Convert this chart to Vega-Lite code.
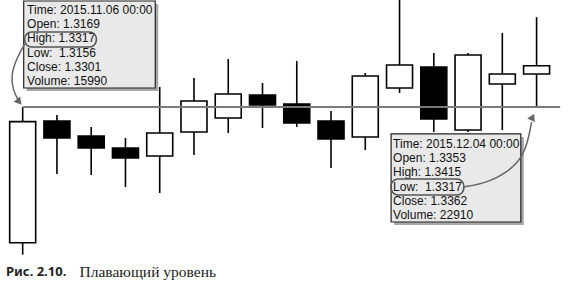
{
  "$schema": "https://vega.github.io/schema/vega-lite/v6.json",
  "width": 572,
  "height": 287,
  "autosize": {"type": "none"},
  "padding": 0,
  "background": "white",
  "config": {"view": {"stroke": null}},
  "datasets": {
    "candles": [
      {"i": 1, "open": 1.3169, "high": 1.3317, "low": 1.3156, "close": 1.3301},
      {"i": 2, "open": 1.33017, "high": 1.33083, "low": 1.32439, "close": 1.32832},
      {"i": 3, "open": 1.32854, "high": 1.32952, "low": 1.32428, "close": 1.32723},
      {"i": 4, "open": 1.32723, "high": 1.32832, "low": 1.32298, "close": 1.32614},
      {"i": 5, "open": 1.32636, "high": 1.33388, "low": 1.32232, "close": 1.32886},
      {"i": 6, "open": 1.32897, "high": 1.33486, "low": 1.32647, "close": 1.33235},
      {"i": 7, "open": 1.3305, "high": 1.33693, "low": 1.32886, "close": 1.33312},
      {"i": 8, "open": 1.33301, "high": 1.33432, "low": 1.32941, "close": 1.33192},
      {"i": 9, "open": 1.33203, "high": 1.33672, "low": 1.32952, "close": 1.32996},
      {"i": 10, "open": 1.33017, "high": 1.33126, "low": 1.32505, "close": 1.32821},
      {"i": 11, "open": 1.32843, "high": 1.33541, "low": 1.32701, "close": 1.33508},
      {"i": 12, "open": 1.33377, "high": 1.3445, "low": 1.33323, "close": 1.33628},
      {"i": 13, "open": 1.33606, "high": 1.33759, "low": 1.32897, "close": 1.33039},
      {"i": 14, "open": 1.32919, "high": 1.33759, "low": 1.32897, "close": 1.33737},
      {"i": 15, "open": 1.33421, "high": 1.33977, "low": 1.32919, "close": 1.3353},
      {"i": 16, "open": 1.3353, "high": 1.3415, "low": 1.3317, "close": 1.3362}
    ],
    "level": [{"i": 1, "i2": 16.69, "p": 1.3317}],
    "boxes": [
      {"i": 1.03, "i2": 4.87, "p": 1.34326, "p2": 1.33377},
      {"i": 11.754, "i2": 15.54, "p": 1.32876, "p2": 1.31916}
    ],
    "tips": [
      {"i": 1.129, "p": 1.34228, "t": "Time: 2015.11.06 00:00\nOpen: 1.3169\nHigh: 1.3317\nLow:\u00a0 1.3156\nClose: 1.3301\nVolume: 15990"},
      {"i": 11.812, "p": 1.32767, "t": "Time: 2015.12.04 00:00\nOpen: 1.3353\nHigh: 1.3415\nLow:\u00a0 1.3317\nClose: 1.3362\nVolume: 22910"}
    ],
    "rings": [
      {"i": 1.057, "i2": 3.151, "p": 1.33988, "p2": 1.33824},
      {"i": 11.754, "i2": 13.876, "p": 1.32385, "p2": 1.3221}
    ],
    "arrows": [
      {"a": 1, "k": 1, "i": 1.0574, "p": 1.33857},
      {"a": 1, "k": 2, "i": 0.8279, "p": 1.33704},
      {"a": 1, "k": 3, "i": 0.6559, "p": 1.33518},
      {"a": 1, "k": 4, "i": 0.7132, "p": 1.33355},
      {"a": 1, "k": 5, "i": 0.8853, "p": 1.33235},
      {"a": 2, "k": 1, "i": 13.876, "p": 1.32298},
      {"a": 2, "k": 2, "i": 14.536, "p": 1.32341},
      {"a": 2, "k": 3, "i": 15.167, "p": 1.32461},
      {"a": 2, "k": 4, "i": 15.597, "p": 1.32625},
      {"a": 2, "k": 5, "i": 15.769, "p": 1.32832},
      {"a": 2, "k": 6, "i": 15.855, "p": 1.33006}
    ],
    "heads": [
      {"i": 0.9, "p": 1.33225, "ang": 140},
      {"i": 15.884, "p": 1.33061, "ang": 25}
    ]
  },
  "layer": [
    {
      "data": {"name": "candles"},
      "mark": {"type": "rule", "color": "black", "strokeWidth": 1.6},
      "encoding": {
        "x": {"field": "i", "type": "quantitative", "scale": {"domain": [0.484, 16.888], "nice": false, "zero": false}, "axis": null},
        "y": {"field": "low", "type": "quantitative", "scale": {"domain": [1.312071, 1.343368], "nice": false, "zero": false}, "axis": null},
        "y2": {"field": "high"}
      }
    },
    {
      "data": {"name": "candles"},
      "mark": {"type": "bar", "size": 26, "stroke": "black", "strokeWidth": 1.6},
      "encoding": {
        "x": {"field": "i", "type": "quantitative", "scale": {"domain": [0.484, 16.888], "nice": false, "zero": false}, "axis": null},
        "y": {"field": "open", "type": "quantitative", "scale": {"domain": [1.312071, 1.343368], "nice": false, "zero": false}, "axis": null},
        "y2": {"field": "close"},
        "fill": {"condition": {"test": "datum.close > datum.open", "value": "white"}, "value": "black"}
      }
    },
    {
      "data": {"name": "level"},
      "mark": {"type": "rule", "color": "#7a7a7a", "strokeWidth": 2},
      "encoding": {
        "x": {"field": "i", "type": "quantitative", "scale": {"domain": [0.484, 16.888], "nice": false, "zero": false}, "axis": null},
        "x2": {"field": "i2"},
        "y": {"field": "p", "type": "quantitative", "scale": {"domain": [1.312071, 1.343368], "nice": false, "zero": false}, "axis": null}
      }
    },
    {
      "data": {"name": "boxes"},
      "mark": {"type": "rect", "fill": "#a8a8a8", "xOffset": 3, "x2Offset": 3, "yOffset": 3, "y2Offset": 3},
      "encoding": {
        "x": {"field": "i", "type": "quantitative", "scale": {"domain": [0.484, 16.888], "nice": false, "zero": false}, "axis": null},
        "x2": {"field": "i2"},
        "y": {"field": "p", "type": "quantitative", "scale": {"domain": [1.312071, 1.343368], "nice": false, "zero": false}, "axis": null},
        "y2": {"field": "p2"}
      }
    },
    {
      "data": {"name": "boxes"},
      "mark": {"type": "rect", "fill": "#e9e9e9", "stroke": "#222222", "strokeWidth": 1.2},
      "encoding": {
        "x": {"field": "i", "type": "quantitative", "scale": {"domain": [0.484, 16.888], "nice": false, "zero": false}, "axis": null},
        "x2": {"field": "i2"},
        "y": {"field": "p", "type": "quantitative", "scale": {"domain": [1.312071, 1.343368], "nice": false, "zero": false}, "axis": null},
        "y2": {"field": "p2"}
      }
    },
    {
      "data": {"name": "tips"},
      "mark": {"type": "text", "align": "left", "baseline": "middle", "lineBreak": "\n", "lineHeight": 14.2, "font": "Liberation Sans", "fontSize": 12, "color": "#111111"},
      "encoding": {
        "x": {"field": "i", "type": "quantitative", "scale": {"domain": [0.484, 16.888], "nice": false, "zero": false}, "axis": null},
        "y": {"field": "p", "type": "quantitative", "scale": {"domain": [1.312071, 1.343368], "nice": false, "zero": false}, "axis": null},
        "text": {"field": "t"}
      }
    },
    {
      "data": {"name": "rings"},
      "mark": {"type": "rect", "fill": null, "fillOpacity": 0, "stroke": "#555555", "strokeWidth": 1.6, "cornerRadius": 7},
      "encoding": {
        "x": {"field": "i", "type": "quantitative", "scale": {"domain": [0.484, 16.888], "nice": false, "zero": false}, "axis": null},
        "x2": {"field": "i2"},
        "y": {"field": "p", "type": "quantitative", "scale": {"domain": [1.312071, 1.343368], "nice": false, "zero": false}, "axis": null},
        "y2": {"field": "p2"}
      }
    },
    {
      "data": {"name": "arrows"},
      "mark": {"type": "line", "color": "#666666", "strokeWidth": 1.5, "interpolate": "basis"},
      "encoding": {
        "x": {"field": "i", "type": "quantitative", "scale": {"domain": [0.484, 16.888], "nice": false, "zero": false}, "axis": null},
        "y": {"field": "p", "type": "quantitative", "scale": {"domain": [1.312071, 1.343368], "nice": false, "zero": false}, "axis": null},
        "detail": {"field": "a"},
        "order": {"field": "k"}
      }
    },
    {
      "data": {"name": "heads"},
      "mark": {"type": "point", "shape": "triangle-up", "filled": true, "color": "#666666", "size": 70, "opacity": 1},
      "encoding": {
        "x": {"field": "i", "type": "quantitative", "scale": {"domain": [0.484, 16.888], "nice": false, "zero": false}, "axis": null},
        "y": {"field": "p", "type": "quantitative", "scale": {"domain": [1.312071, 1.343368], "nice": false, "zero": false}, "axis": null},
        "angle": {"field": "ang", "type": "quantitative", "scale": null}
      }
    },
    {
      "data": {"values": [{"i": 0.5125, "p": 1.31371, "t": "Рис. 2.10."}]},
      "mark": {"type": "text", "align": "left", "baseline": "middle", "font": "Noto Sans", "fontWeight": "bold", "fontSize": 13, "color": "#222222"},
      "encoding": {
        "x": {"field": "i", "type": "quantitative", "scale": {"domain": [0.484, 16.888], "nice": false, "zero": false}, "axis": null},
        "y": {"field": "p", "type": "quantitative", "scale": {"domain": [1.312071, 1.343368], "nice": false, "zero": false}, "axis": null},
        "text": {"field": "t"}
      }
    },
    {
      "data": {"values": [{"i": 2.66, "p": 1.31371, "t": "Плавающий уровень"}]},
      "mark": {"type": "text", "align": "left", "baseline": "middle", "font": "Liberation Serif", "fontSize": 15.5, "color": "#222222"},
      "encoding": {
        "x": {"field": "i", "type": "quantitative", "scale": {"domain": [0.484, 16.888], "nice": false, "zero": false}, "axis": null},
        "y": {"field": "p", "type": "quantitative", "scale": {"domain": [1.312071, 1.343368], "nice": false, "zero": false}, "axis": null},
        "text": {"field": "t"}
      }
    }
  ]
}
